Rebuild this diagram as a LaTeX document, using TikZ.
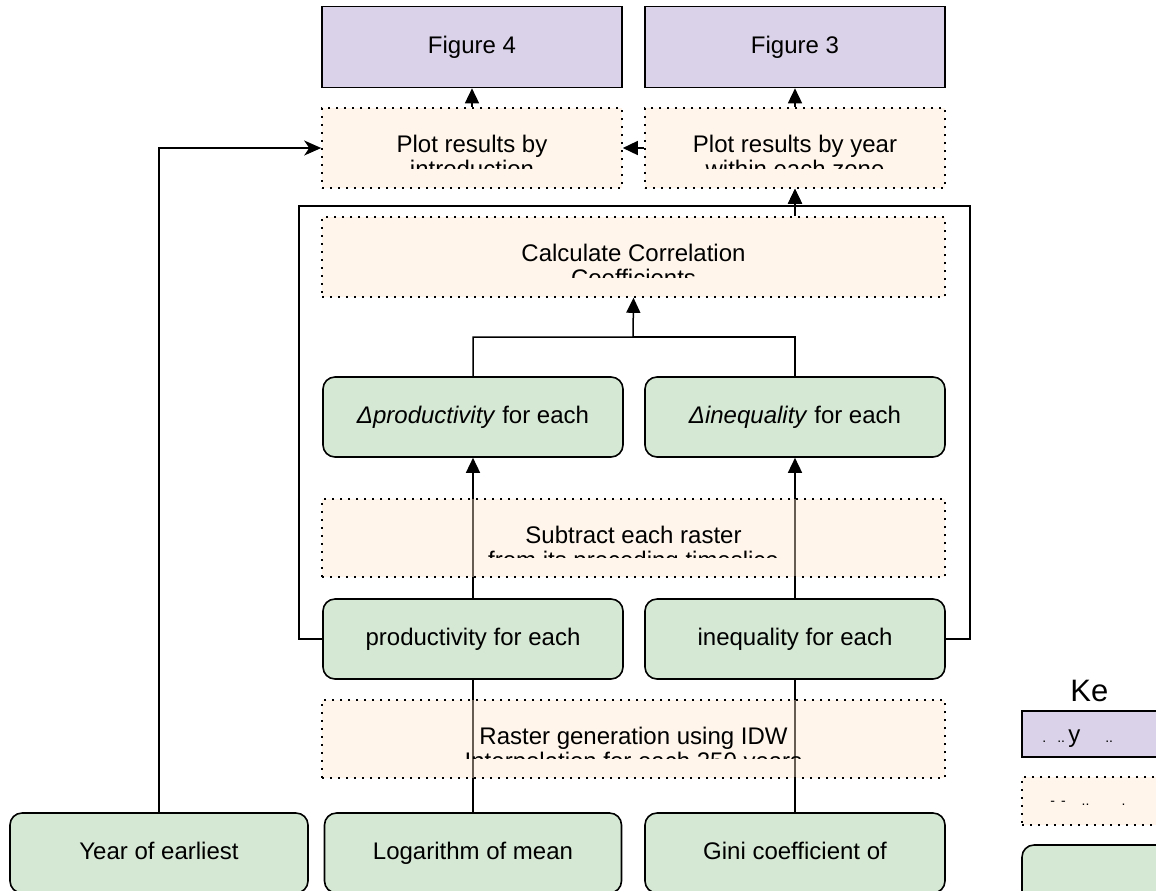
\documentclass[tikz,border=0pt]{standalone}
\usepackage{fontspec}
\setmainfont{Liberation Sans}
\usetikzlibrary{arrows.meta,backgrounds}

\definecolor{outfill}{RGB}{218,210,232}
\definecolor{methfill}{RGB}{255,230,204}
\definecolor{datafill}{RGB}{213,232,212}

\begin{document}
\begin{tikzpicture}[x=0.5pt,y=-0.5pt,
    font=\fontsize{12}{14}\selectfont,
    output/.style={draw, line width=0.8pt, fill=outfill, minimum width=150pt, minimum height=40.5pt, inner sep=0pt,
        text height=8.6pt, text depth=2.5pt},
    data/.style={draw, line width=0.8pt, rounded corners=6pt, fill=datafill, minimum width=150pt, minimum height=40pt, inner sep=0pt,
        text height=8.6pt, text depth=2.5pt},
    method/.style 2 args={draw, line width=0.8pt, dash pattern=on 0.8pt off 3.2pt, fill=methfill, fill opacity=0.4,
        minimum width=150pt, minimum height=40pt, inner sep=0pt,
        path picture={
            \clip ([yshift=10pt]path picture bounding box.south west) rectangle (path picture bounding box.north east);
            \node[fill opacity=1, text opacity=1, anchor=base] at ([yshift=-22pt]path picture bounding box.north) {#1};
            \node[fill opacity=1, text opacity=1, anchor=base] at ([yshift=-34.5pt]path picture bounding box.north) {#2};
        }},
    link/.style={line width=0.75pt},
    tip/.style={-{Triangle[length=7.5pt,width=7pt]}}
]
    \useasboundingbox (0,0) rectangle (1156,890);

    % outputs
    \node[output] (fig4) at (472,47) {Figure 4};
    \node[output] (fig3) at (795,47) {Figure 3};

    % plotting
    \node[method={Plot results by}{introduction}] (plotintro) at (472,148) {};
    \node[method={Plot results by year}{within each zone}] (plotyear) at (795,148) {};
    \node[method={Calculate Correlation}{Coefficients}, minimum width=311.5pt, minimum height=40pt] (corr) at (633.5,257) {};

    % rasters
    \node[data] (dprod) at (473,417) {\textit{Δproductivity} for each};
    \node[data] (dineq) at (795,417) {\textit{Δinequality} for each};
    \node[method={Subtract each raster}{from its preceding timeslice}, minimum width=311.5pt, minimum height=39pt] (subtr) at (633.5,538) {};
    \node[data] (prod) at (473,639) {productivity for each};
    \node[data] (ineq) at (795,639) {inequality for each};
    \node[method={Raster generation using IDW}{Interpolation for each 250 years}, minimum width=311.5pt, minimum height=39pt] (raster) at (633.5,739) {};

    % input data
    \node[data, minimum width=149pt] (year) at (159,853) {Year of earliest};
    \node[data, minimum width=148.5pt] (logmean) at (473,853) {Logarithm of mean};
    \node[data] (gini) at (795,853) {Gini coefficient of};

    % key
    \node[font=\fontsize{15.5}{18}\selectfont, anchor=base west, inner sep=0pt] (keytitle) at (1070,701) {Ke};
    \node[output, minimum width=77pt, minimum height=23pt] (keyout) at (1099,734) {};
    \node[anchor=base west, inner sep=0pt] (keyoutlbl) at (1042,742) {{\scriptsize.}\hspace{5.5pt}{\scriptsize..}\hspace{1.6pt}y\hspace{12.5pt}{\scriptsize..}};
    \node[method={}{}, minimum width=77pt, minimum height=24pt] (keymeth) at (1099,801) {};
    \node[anchor=base west, inner sep=0pt] (keymethlbl) at (1050,805) {{\scriptsize -}\hspace{3pt}{\scriptsize -}\hspace{8pt}{\scriptsize ..}\hspace{16pt}{\scriptsize .}};
    \node[data, minimum width=77pt, minimum height=40pt] (keydata) at (1099,885) {};

    \coordinate (looptop) at (299,206);
    \coordinate (loopright) at (970,206);
    \coordinate (dbar) at (633,337);

    \begin{pgfonlayer}{background}
        \draw[link,tip] (plotyear) -- (plotintro);
        \draw[link,tip] (plotintro) -- (fig4);
        \draw[link,tip] (plotyear) -- (fig3);
        \draw[link,tip] (corr.north -| plotyear) -- (plotyear.south);
        \draw[link,tip] (prod.west) -| (looptop) -| (plotyear.south);
        \draw[link] (ineq.east) -| (loopright) -- (looptop -| plotyear);
        \draw[link,tip] (dprod.north) |- (dbar) -- (corr.south);
        \draw[link] (dineq.north) |- (dbar);
        \draw[link,tip] (prod) -- (dprod);
        \draw[link,tip] (ineq) -- (dineq);
        \draw[link] (logmean) -- (prod);
        \draw[link] (gini) -- (ineq);
        \draw[link,-{Stealth[length=8.5pt,width=7.5pt,inset=2.5pt]}] (year.north) |- (plotintro.west);
    \end{pgfonlayer}
\end{tikzpicture}
\end{document}
